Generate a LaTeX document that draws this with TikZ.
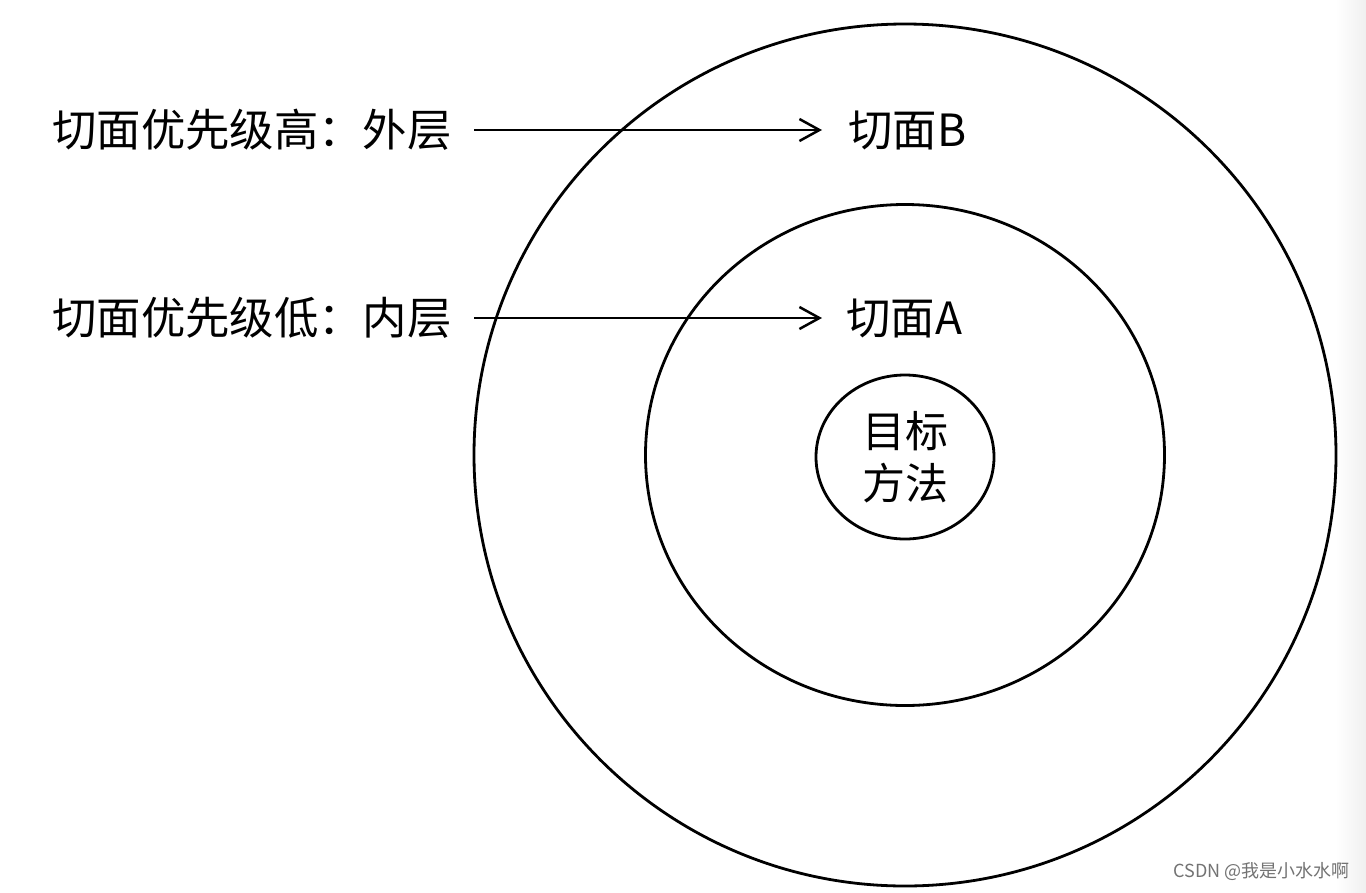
\documentclass[tikz,border=0pt]{standalone}
\usepackage{fontspec}
\setmainfont{Noto Sans CJK SC}
\newfontfamily\cjk{Noto Sans CJK SC}
\usetikzlibrary{arrows.meta,shapes.geometric}
\tikzset{
  ring/.style={line width=2.8pt, draw=black},
  lbl/.style={font=\cjk\fontsize{44.4}{52}\selectfont, inner sep=0pt, anchor=west},
  pointer/.style={line width=2.5pt, -{Straight Barb[length=20pt,width=22pt,line width=2.5pt]}},
  wmark/.style={font=\cjk\fontsize{18}{22}\selectfont, text=black!55, inner sep=0pt, anchor=east}
}
\begin{document}
\begin{tikzpicture}[x=1pt,y=-1pt]
\useasboundingbox (0,0) rectangle (1366,892);
\fill[white] (0,0) rectangle (1366,892);
\shade[left color=white, right color=black!6] (1336,0) rectangle (1366,892);
\draw[ring] (905,455) circle (431);
\draw[ring] (905,455) ellipse (259.5 and 250.5);
\node[ring, ellipse, minimum width=178pt, minimum height=164pt, inner sep=0pt, align=center,
      font=\cjk\fontsize{43}{52}\selectfont] (target) at (905,457) {目标\\方法};
\node[lbl] (hi) at (52,130) {切面优先级高：外层};
\node[lbl] (lo) at (52,318) {切面优先级低：内层};
\node[lbl] (b) at (848,130) {切面B};
\node[lbl] (a) at (846,318) {切面A};
\coordinate (hiend) at (474,130);
\coordinate (loend) at (474,318);
\draw[pointer] (hiend) -- ([xshift=-26pt]b.west);
\draw[pointer] (loend) -- ([xshift=-24pt]a.west);
\node[wmark] (wm) at (1350,872) {CSDN @我是小水水啊};
\end{tikzpicture}
\end{document}
